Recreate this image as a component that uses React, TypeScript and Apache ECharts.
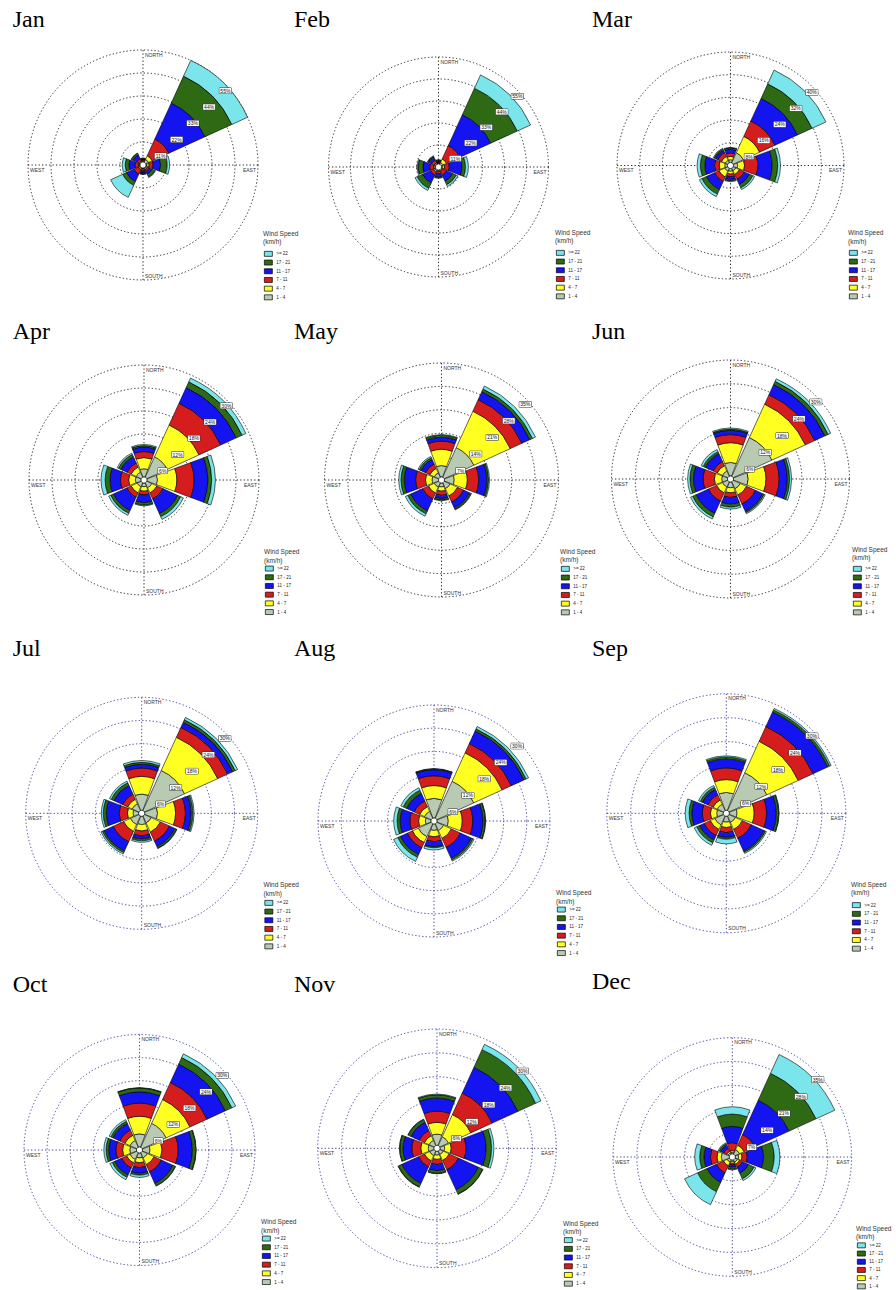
import React, { useEffect, useRef } from 'react';
import * as echarts from 'echarts';

const months = ['Jan', 'Feb', 'Mar', 'Apr', 'May', 'Jun', 'Jul', 'Aug', 'Sep', 'Oct', 'Nov', 'Dec'];
const directions = ['N', 'NE', 'E', 'SE', 'S', 'SW', 'W', 'NW'];
const speedBins = ['1 - 4', '4 - 7', '7 - 11', '11 - 17', '17 - 21', '>= 22'];
const legendOrder = ['>= 22', '17 - 21', '11 - 17', '7 - 11', '4 - 7', '1 - 4'];
const binColors = ['#b8cbb2', '#ffff22', '#d51d1d', '#1414f0', '#2e6a14', '#7be5ec'];
const ringMax = [55, 55, 40, 30, 35, 30, 30, 30, 30, 30, 30, 35];
const compassNames = ['NORTH', 'EAST', 'SOUTH', 'WEST'];

// rows: speed bins 1-4, 4-7, 7-11, 11-17, 17-21, >=22 ; columns: N, NE, E, SE, S, SW, W, NW (% of time)
const janFreq = [
  [0.3, 1.5, 0.5, 0.5, 0.3, 0.5, 0.3, 0.3],
  [0.5, 2, 1, 0.5, 0.3, 0.5, 0.5, 0.5],
  [0.4, 9, 2, 1, 0.9, 2.5, 1.7, 1.2],
  [0.3, 19.5, 3.7, 1.5, 1, 4, 3, 2],
  [0.3, 14.5, 3.2, 1.5, 0.5, 2, 1.8, 0.8],
  [0.2, 8.5, 1.2, 0.3, 0.2, 6.5, 1.5, 0.2],
];
const febFreq = [
  [0.3, 1, 0.5, 0.5, 0.3, 0.5, 0.4, 0.3],
  [0.3, 2, 1, 0.5, 0.5, 0.7, 0.6, 0.5],
  [0.4, 7.5, 2.5, 2, 1.2, 1.8, 2, 1.7],
  [0.5, 17.5, 6.5, 3.5, 1.5, 4.5, 3.5, 1.5],
  [0.5, 15, 1.8, 2, 0.5, 3, 2.5, 0.5],
  [0.2, 7.5, 1.5, 1, 0.3, 1.2, 0.5, 0.3],
];
const marFreq = [
  [1, 4, 1.5, 1, 1, 1.2, 1, 1],
  [1.2, 6.5, 2.5, 1.5, 1, 2.3, 2, 1.5],
  [1.3, 6.1, 4.8, 2, 1, 1.8, 1.7, 1.5],
  [1.3, 9, 5.2, 2, 1, 3.2, 3.5, 1],
  [0.5, 5.8, 2, 1.3, 0.5, 1.8, 1.6, 0.5],
  [0.2, 5.5, 1, 0.7, 0.3, 1, 1.2, 0.3],
];
const aprFreq = [
  [2.2, 6, 2.8, 1.5, 1, 1.2, 1.5, 1.5],
  [3, 9.4, 5.2, 1.5, 1.2, 1.8, 1.8, 1.5],
  [1.6, 6.4, 4.6, 1.8, 1, 1.3, 2.2, 1.2],
  [1.2, 4.6, 3.7, 4.3, 2.1, 3.9, 2.8, 1.8],
  [0.4, 1.7, 1, 0.9, 0.6, 0.8, 1.3, 0.7],
  [0.3, 1.1, 1, 0.8, 0.2, 0.6, 1.1, 0.4],
];
const mayFreq = [
  [3.5, 10, 3, 2, 1.2, 1.5, 2, 1.5],
  [5, 12.3, 4, 2.5, 1.3, 2, 2, 1.5],
  [2.5, 3.9, 3.5, 2, 1.3, 2, 3, 1.5],
  [1.2, 2.7, 2.5, 2, 1, 4, 3.5, 1.5],
  [0.6, 0.9, 0.5, 0.5, 0.5, 1, 1, 0.6],
  [0.2, 1, 0.3, 0.2, 0.2, 0.8, 0.7, 0.4],
];
const junFreq = [
  [3.5, 11, 3.8, 2, 1.5, 1.5, 1.5, 1.5],
  [5.1, 9.5, 4.6, 1.8, 1.3, 1.7, 1.9, 1.5],
  [2.1, 2.7, 3.4, 2.5, 1.2, 2.3, 2.9, 1.2],
  [1.1, 2.9, 2.1, 2.1, 1.7, 3.5, 2.5, 2.2],
  [0.3, 0.9, 0.6, 0.4, 0.8, 1, 0.9, 0.6],
  [0.3, 0.7, 0.5, 0.3, 0.5, 0.6, 0.6, 0.6],
];
const julFreq = [
  [4.3, 11.7, 3.4, 2, 2.2, 2.5, 1.5, 2],
  [4.7, 9.7, 4.8, 2.7, 1.7, 2, 1.5, 1.3],
  [2.2, 2.9, 2.6, 2.6, 1.3, 3, 2.2, 1.5],
  [1, 1.5, 1.5, 1.6, 0.8, 2.7, 3.4, 2.5],
  [0.5, 0.7, 0.5, 0.5, 0.5, 0.5, 0.8, 0.8],
  [0.5, 0.7, 0.3, 0.1, 0.4, 0.4, 0.5, 0.5],
];
const augFreq = [
  [5.2, 10.8, 3, 2, 1.7, 3.8, 1.5, 2],
  [3.4, 8.3, 3.7, 2.3, 1.7, 1.7, 1.8, 1.4],
  [2.6, 2.7, 2.8, 2.6, 1.3, 1.5, 2.3, 1.6],
  [1.6, 3.7, 2.7, 3.2, 1.3, 2, 2.6, 2.2],
  [0.2, 0.6, 0.6, 0.5, 0.3, 0.8, 0.8, 1],
  [0.1, 0.7, 0.1, 0.3, 0.6, 1.2, 0.9, 0.7],
];
const sepFreq = [
  [4.6, 10.7, 2, 1.8, 1.5, 2.5, 1.7, 1.8],
  [3.3, 8.9, 4.4, 2, 1.4, 1.3, 1.6, 1.2],
  [3, 4.2, 3.2, 2.5, 1.3, 1.7, 2.1, 1.5],
  [2.3, 4.1, 2.5, 3.6, 1.2, 1.3, 2.7, 1.5],
  [0.5, 0.6, 0.6, 0.4, 0.5, 0.8, 0.7, 0.6],
  [0.3, 0.4, 0.1, 0.3, 1.2, 0.7, 1, 0.5],
];
const octFreq = [
  [3.5, 7, 2, 1.5, 1.3, 2, 1.8, 2],
  [4.7, 7, 3.2, 2, 1.3, 1, 1.9, 1.5],
  [3.5, 5, 4.3, 2.1, 1.3, 1.5, 1.8, 1.5],
  [3, 5.4, 3.8, 3.4, 1.5, 2, 1.9, 2],
  [1, 1.9, 0.9, 0.7, 0.5, 0.7, 0.7, 0.6],
  [0.1, 1.1, 0.1, 0.1, 0.6, 0.7, 0.6, 0.5],
];
const novFreq = [
  [2.9, 2.5, 1.2, 1, 1, 1.3, 1.5, 1.5],
  [3, 6.3, 1.7, 1.7, 1.1, 1.5, 1.9, 1.3],
  [2.9, 6.1, 3.8, 2.6, 1.3, 1.7, 2.3, 1.5],
  [3.4, 7.3, 5.2, 5.7, 1.6, 4.7, 2.3, 2.3],
  [0.8, 5, 1.4, 1.2, 0.7, 1, 0.8, 0.8],
  [0.2, 1.5, 0.6, 0.1, 0.1, 0.1, 0.1, 0.1],
];
const decFreq = [
  [0.5, 1.5, 1, 0.8, 0.5, 0.8, 2.4, 0.5],
  [0.5, 1.5, 1, 0.7, 0.5, 1.2, 1.3, 0.5],
  [2.4, 3.5, 1.6, 1, 0.5, 2.4, 2, 1],
  [4.9, 11.4, 4.9, 2, 0.7, 3.1, 1.9, 1],
  [3.7, 8.9, 3.2, 1.8, 0.6, 3.1, 1.3, 0.5],
  [2.2, 6.2, 1.7, 0.6, 0.2, 4.3, 1.5, 0.3],
];
const monthFreq = [janFreq, febFreq, marFreq, aprFreq, mayFreq, junFreq, julFreq, augFreq, sepFreq, octFreq, novFreq, decFreq];

// layout (pixels)
const centerX = [143, 438.5, 730.5, 144, 441.5, 730.5, 141.7, 434, 726.3, 139.5, 437, 732.3];
const centerY = [165, 167, 165.5, 480, 480, 479, 813.3, 821, 813.3, 1150, 1148.3, 1157];
const roseRadius = [115, 110, 113.5, 115, 117, 119, 116, 116, 119.5, 115.5, 119.3, 119.3];
const titleX = [12.7, 294, 592, 12.7, 294, 592, 12.7, 294, 592, 12.7, 294, 592];
const titleY = [18.7, 18.7, 18.7, 331, 331, 331, 648, 648, 648, 984, 984, 981];
const legendX = [264, 556, 849, 265, 561, 853, 264.5, 557, 852, 262, 564, 857];
const legendTitleY = [229, 228, 228.3, 547.3, 547, 545, 880.7, 888.3, 880, 1217.7, 1219, 1224];
const legendBoxY = [251, 250, 250, 565.7, 566, 566, 900, 906.7, 902.3, 1235.7, 1237.3, 1242.5];
const legendGap = [3, 3, 3, 3, 3, 3, 3, 3, 3, 3, 3, 2.5];

const SMALL_FONT = '"Liberation Sans", Arial, sans-serif';

function buildOption() {
  const polar: any[] = [];
  const angleAxis: any[] = [];
  const radiusAxis: any[] = [];
  const series: any[] = [];
  const legend: any[] = [];
  const graphic: any[] = [];

  months.forEach((m, i) => {
    const cx = centerX[i];
    const cy = centerY[i];
    const R = roseRadius[i];
    const max = ringMax[i];
    const step = max / 5;
    const gridColor = i < 6 ? '#2a2a2a' : '#45459a';
    const dotted = { color: gridColor, width: 1, type: [1.3, 2.2] };

    // grid polar
    polar.push({ center: [cx, cy], radius: R });
    angleAxis.push({
      polarIndex: 3 * i, type: 'value', min: 0, max: 360, interval: 90, startAngle: 90,
      axisLine: { show: false }, axisTick: { show: false }, axisLabel: { show: false },
      splitLine: { show: true, lineStyle: dotted },
    });
    radiusAxis.push({
      polarIndex: 3 * i, min: 0, max, interval: step,
      axisLine: { show: false }, axisTick: { show: false }, axisLabel: { show: false },
      splitLine: { show: true, lineStyle: dotted },
    });

    // ring-label polar
    polar.push({ center: [cx, cy], radius: R });
    angleAxis.push({ polarIndex: 3 * i + 1, type: 'value', min: 0, max: 360, startAngle: 45, show: false });
    radiusAxis.push({
      polarIndex: 3 * i + 1, min: 0, max, interval: step, z: 10,
      axisLine: { show: false }, axisTick: { show: false }, splitLine: { show: false },
      axisLabel: {
        show: true, showMinLabel: false, margin: -10, fontSize: 5, color: '#111', fontFamily: SMALL_FONT,
        formatter: (v: number) => (v === 0 ? '' : `${Math.round(v)}%`),
        backgroundColor: '#fff', borderColor: '#333', borderWidth: 0.5, padding: [0.5, 1, 0, 1],
      },
    });

    // bar polar
    polar.push({ center: [cx, cy], radius: [3, R] });
    angleAxis.push({ polarIndex: 3 * i + 2, type: 'category', data: directions, startAngle: 112.5, show: false });
    radiusAxis.push({ polarIndex: 3 * i + 2, min: 0, max, show: false });

    speedBins.forEach((b, k) => {
      series.push({
        type: 'bar', coordinateSystem: 'polar', polarIndex: 3 * i + 2, stack: 'month' + i,
        name: b, data: monthFreq[i][k], barCategoryGap: '9%', silent: true,
        itemStyle: { color: binColors[k], borderColor: '#000', borderWidth: 0.6 },
      });
    });

    // calm circle at the centre
    series.push({
      type: 'pie', center: [cx, cy], radius: 3, silent: true, z: 5,
      label: { show: false }, labelLine: { show: false },
      data: [{ value: 1, name: 'calm' }],
      itemStyle: { color: '#fff', borderColor: '#000', borderWidth: 0.6 },
    });

    legend.push({
      orient: 'vertical', left: legendX[i], top: legendBoxY[i], height: 80, padding: 0,
      itemWidth: 8, itemHeight: 5, itemGap: legendGap[i], icon: 'rect', selectedMode: false,
      data: legendOrder,
      itemStyle: { borderColor: '#000', borderWidth: 0.7 },
      textStyle: { fontSize: 4.5, color: '#222', fontFamily: SMALL_FONT, padding: [0, 0, 0, -1] },
    });

    graphic.push({
      type: 'text', x: titleX[i], y: titleY[i], silent: true,
      style: {
        text: m, fill: '#000', font: '24px "Liberation Serif", "Times New Roman", serif',
        align: 'left', verticalAlign: 'middle', textAlign: 'left', textVerticalAlign: 'middle',
      },
    });
    graphic.push({
      type: 'text', x: legendX[i] - 1, y: legendTitleY[i], silent: true,
      style: {
        text: 'Wind Speed\n(km/h)', fill: '#333', font: `6.5px ${SMALL_FONT}`, lineHeight: 8.5,
        align: 'left', verticalAlign: 'top', textAlign: 'left', textVerticalAlign: 'top',
      },
    });

    const compassPos = [
      { x: cx + 2, y: cy - R + 2, a: 'left', v: 'top' },
      { x: cx + R - 2, y: cy + 2, a: 'right', v: 'top' },
      { x: cx + 2, y: cy + R - 2, a: 'left', v: 'bottom' },
      { x: cx - R + 2, y: cy + 2, a: 'left', v: 'top' },
    ];
    compassNames.forEach((name, j) => {
      const p = compassPos[j];
      graphic.push({
        type: 'text', x: p.x, y: p.y, silent: true, z: 20,
        style: {
          text: name, fill: '#333', font: `5px ${SMALL_FONT}`,
          align: p.a, verticalAlign: p.v, textAlign: p.a, textVerticalAlign: p.v,
        },
      });
    });
  });

  return {
    animation: false,
    backgroundColor: '#fff',
    polar, angleAxis, radiusAxis, series, legend, graphic,
  };
}

export default function App() {
  const ref = useRef<HTMLDivElement>(null);
  useEffect(() => {
    const chart = echarts.init(ref.current as HTMLDivElement, undefined, { renderer: 'svg' });
    chart.setOption(buildOption() as any);
    return () => chart.dispose();
  }, []);
  return (
    <div
      ref={ref}
      style={{ position: 'absolute', left: 0, top: 0, width: 896, height: 1290, background: '#fff' }}
    />
  );
}
